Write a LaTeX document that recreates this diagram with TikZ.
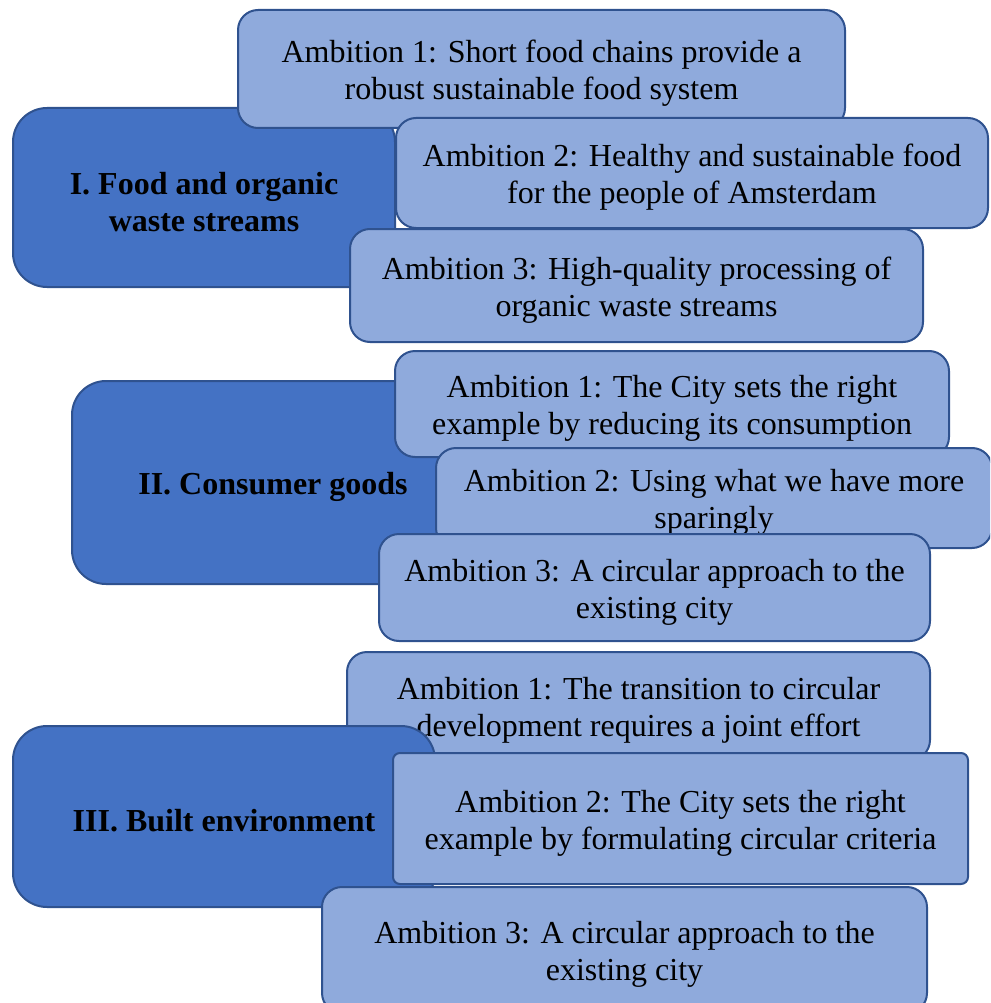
\documentclass[tikz,border=0pt]{standalone}
\usepackage{fontspec}
\setmainfont{Liberation Serif}
\definecolor{maincol}{HTML}{4472C4}
\definecolor{ambcol}{HTML}{8FAADC}
\definecolor{edgecol}{HTML}{2F528F}
\begin{document}
\begin{tikzpicture}[x=1pt,y=1pt,
  box/.style={draw=edgecol, line width=2pt, rectangle, inner sep=0pt, align=center,
    text height=68pt, font=\fontsize{32}{37}\selectfont, text=black},
  oneline/.style={text height=31pt},
  mainbox/.style={box, fill=maincol, rounded corners=34pt, font=\fontsize{32}{37}\selectfont\bfseries},
  ambbox/.style={box, fill=ambcol, rounded corners=20pt}]
\useasboundingbox (0,0) rectangle (990,-1003);
\clip (0,0) rectangle (990,-1003);
% Group I
\node[mainbox, minimum width=382pt, minimum height=179pt] (m1) at (204,-197.5) {I. Food and organic\\waste streams};
\node[ambbox, minimum width=607pt, minimum height=118pt] (m1a1) at (541.5,-69) {Ambition 1: Short food chains provide a\\robust sustainable food system};
\node[ambbox, minimum width=592pt, minimum height=110pt] (m1a2) at (692,-173) {Ambition 2: Healthy and sustainable food\\for the people of Amsterdam};
\node[ambbox, minimum width=573pt, minimum height=113pt] (m1a3) at (636.5,-285.5) {Ambition 3: High-quality processing of\\organic waste streams};
% Group II
\node[mainbox, oneline, minimum width=402pt, minimum height=203pt] (m2) at (273,-482.5) {II. Consumer goods};
\node[ambbox, minimum width=554pt, minimum height=106pt] (m2a1) at (672,-404) {Ambition 1: The City sets the right\\example by reducing its consumption};
\node[ambbox, minimum width=556pt, minimum height=100pt] (m2a2) at (714,-498) {Ambition 2: Using what we have more\\sparingly};
\node[ambbox, minimum width=551pt, minimum height=107pt] (m2a3) at (654.5,-587.5) {Ambition 3: A circular approach to the\\existing city};
% Group III
\node[ambbox, minimum width=583pt, minimum height=108pt] (m3a1) at (638.5,-706) {Ambition 1: The transition to circular\\development requires a joint effort};
\node[mainbox, oneline, minimum width=422pt, minimum height=181pt] (m3) at (224,-816.5) {III. Built environment};
\node[ambbox, rounded corners=7pt, minimum width=575pt, minimum height=131pt] (m3a2) at (680.5,-818.5) {Ambition 2: The City sets the right\\example by formulating circular criteria};
\node[ambbox, minimum width=605pt, minimum height=126pt] (m3a3) at (624.5,-950) {Ambition 3: A circular approach to the\\existing city};
\end{tikzpicture}
\end{document}
